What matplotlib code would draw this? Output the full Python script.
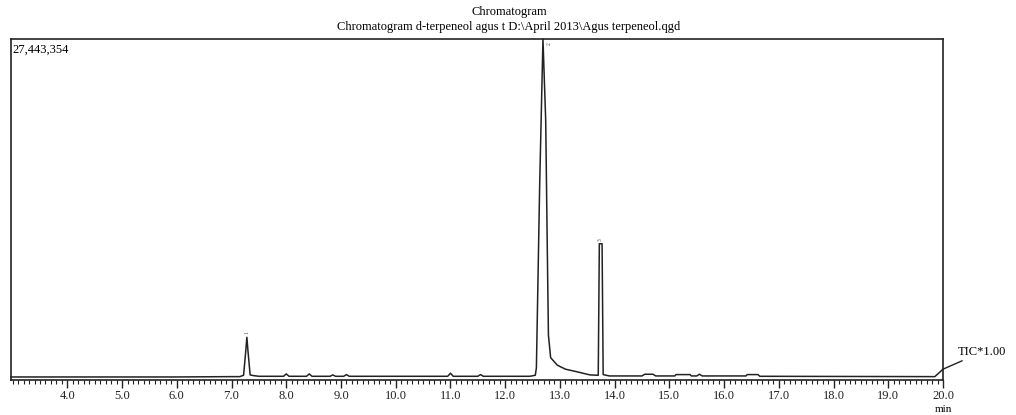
import matplotlib
matplotlib.use('Agg')
import matplotlib.pyplot as plt
from matplotlib.ticker import MultipleLocator, FormatStrFormatter

plt.rcParams.update({
    'font.family': 'Liberation Serif',
    'font.size': 9,
})

# trace: retention time (min) and intensity (% of max)
y_max = 27443354
times = [2.97, 4.0, 5.0, 6.0, 7.0, 7.15, 7.22, 7.26, 7.28, 7.30, 7.34, 7.40, 7.5,
         7.95, 8.0, 8.05, 8.37, 8.42, 8.47, 8.8, 8.85, 8.9, 9.05, 9.1, 9.15,
         10.95, 11.0, 11.05, 11.5, 11.55, 11.6, 12.45, 12.55, 12.57, 12.63,
         12.69, 12.74, 12.77, 12.79, 12.83, 12.95, 13.1, 13.32, 13.55, 13.70,
         13.72, 13.77, 13.79, 13.9, 14.5, 14.55, 14.7, 14.75, 15.1, 15.12,
         15.38, 15.4, 15.5, 15.55, 15.6, 16.4, 16.42, 16.62, 16.65, 19.8, 19.85, 20.0]
intensity = [0.3, 0.3, 0.3, 0.3, 0.4, 0.4, 0.8, 8.0, 12.0, 8.0, 0.9, 0.7, 0.5,
             0.5, 1.2, 0.5, 0.5, 1.2, 0.5, 0.5, 0.9, 0.5, 0.5, 1.0, 0.5,
             0.5, 1.4, 0.5, 0.5, 1.0, 0.5, 0.5, 0.8, 3.0, 57.0,
             100.0, 76.0, 37.0, 12.6, 6.0, 3.8, 2.6, 1.8, 0.9, 0.8,
             39.6, 39.6, 1.0, 0.6, 0.6, 1.1, 1.1, 0.6, 0.6, 1.0,
             1.0, 0.6, 0.6, 1.1, 0.6, 0.6, 1.0, 1.0, 0.5, 0.4, 0.4, 2.6]

peak_times = [7.28, 12.69, 13.745]
peak_heights = [12.0, 100.0, 39.6]
peak_ids = ['1', '2', '3']

fig = plt.figure(figsize=(10.16, 4.15), dpi=100)
ax = fig.add_axes([0.0108, 0.0843, 0.9174, 0.8217])

counts = [v / 100.0 * y_max for v in intensity]
ax.plot(times, counts, color='#222222', linewidth=1.1, clip_on=False)

for t, h, pid in zip(peak_times, peak_heights, peak_ids):
    dx = 0.12 if pid == '2' else 0.0
    dy = -1.5 if pid == '2' else 1.3
    ax.text(t + dx, (h + dy) / 100.0 * y_max, pid, fontsize=4, rotation=90,
            ha='center', va='center', color='#444444')

ax.set_xlim(2.97, 20.0)
ax.set_ylim(-0.006 * y_max, y_max)
ax.xaxis.set_minor_locator(MultipleLocator(0.1))
ax.xaxis.set_major_formatter(FormatStrFormatter('%.1f'))
ax.set_xticks([float(v) for v in range(4, 21)])
ax.tick_params(axis='x', which='major', direction='out', length=6, width=1.0,
               pad=1, labelsize=9, colors='#222222')
ax.tick_params(axis='x', which='minor', direction='out', length=3, width=0.8,
               colors='#222222')
ax.set_yticks([])
for s in ax.spines.values():
    s.set_linewidth(1.2)
    s.set_color('#222222')

ax.text(0.002, 0.985, f'{y_max:,}', transform=ax.transAxes, ha='left', va='top',
        fontsize=9)

fig.text(0.501, 0.971, 'Chromatogram', ha='center', va='center', fontsize=9)
fig.text(0.501, 0.935, r'Chromatogram d-terpeneol agus t D:\April 2013\Agus terpeneol.qgd',
         ha='center', va='center', fontsize=9)

# TIC label with leader line
ax.annotate('TIC*1.00', xy=(20.0, 2.6 / 100 * y_max), xycoords='data',
            xytext=(958 / 1016, 1 - 352 / 415), textcoords='figure fraction',
            ha='left', va='center', fontsize=9,
            arrowprops=dict(arrowstyle='-', color='#222222', lw=1.0,
                            shrinkA=0, shrinkB=0))
fig.text(943 / 1016, 1 - 409 / 415, 'min', ha='center', va='center', fontsize=8)

fig.savefig('out.png', dpi=100)
